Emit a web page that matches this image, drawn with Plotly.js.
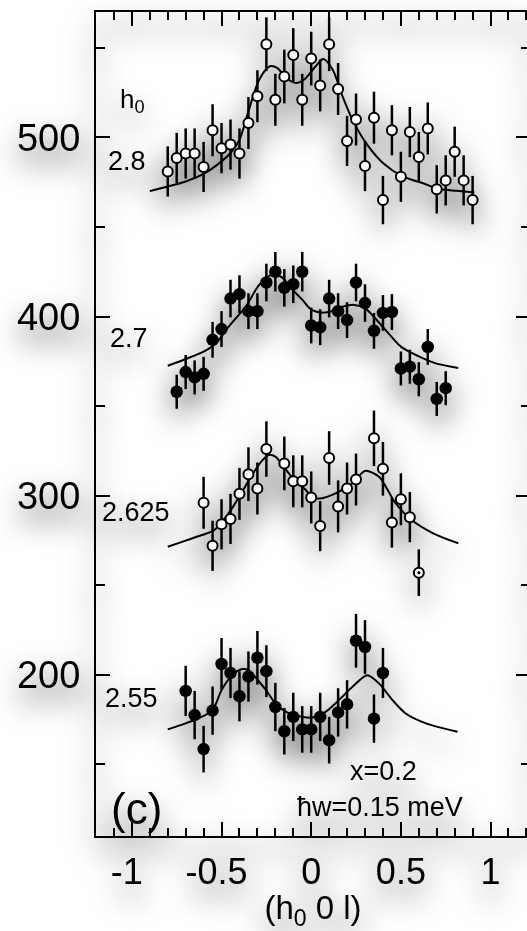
<!DOCTYPE html>
<html>
<head>
<meta charset="utf-8">
<script src="https://cdn.plot.ly/plotly-3.0.1.min.js"></script>
<style>
html, body { margin:0; padding:0; background:#ffffff; overflow:hidden; width:527px; height:931px; }
#chart { width:545px; height:931px; }
#chart .main-svg { filter: drop-shadow(0px 14px 15px rgba(0,0,0,0.75)); }
</style>
</head>
<body>
<div id="chart"></div>
<script>
// ---- data ----
const s1_x = [-0.8,-0.75,-0.7,-0.65,-0.6,-0.55,-0.5,-0.45,-0.4,-0.35,-0.3,-0.25,-0.2,-0.15,-0.1,-0.05,0,0.05,0.1,0.15,0.2,0.25,0.3,0.35,0.4,0.45,0.5,0.55,0.6,0.65,0.7,0.75,0.8,0.85,0.9];
const s1_y = [481,488.5,491,491,483.5,504,494,496,491,508,523,552,521,534,546,521,544,529,552,527,498,510,484,511,465,504,478,503,489,505,471,476,492,476,465];
const s1_err = [14,14,14,14,14,14.5,14,14,14,14.5,14.5,15,14.5,15,15,14.5,15,14.5,15,14.5,14,14.5,14,14.5,13.5,14,14,14,14,14.5,13.5,14,14,14,13.5];

const s2_x = [-0.75,-0.7,-0.65,-0.6,-0.55,-0.5,-0.45,-0.4,-0.35,-0.3,-0.25,-0.2,-0.15,-0.1,-0.05,0,0.05,0.1,0.15,0.2,0.25,0.3,0.35,0.4,0.45,0.5,0.55,0.6,0.65,0.7,0.75];
const s2_y = [358,369,366,368,387,393,410,412.5,403,403,419,425,416,418,425,395,394,410,403,398,419,407.5,392,402,402.5,371,372,365,383,354,360];
const s2_err = [9.5,9.5,9.5,9.5,10,10,10.5,10.5,10,10,10.5,11,10.5,10.5,11,10,10,10.5,10,10,10.5,10.5,10,10,10,9.5,9.5,9.5,10,9.5,9.5];

const s3_x = [-0.6,-0.55,-0.5,-0.45,-0.4,-0.35,-0.3,-0.25,-0.15,-0.1,-0.05,0,0.05,0.1,0.15,0.2,0.25,0.35,0.4,0.45,0.5,0.55,0.6];
const s3_y = [296,272,284,287,301,312,304,326,318,308,308,299,283,321,294,304,309,332,315,285,298,288,257];
const s3_err = [14.5,14,14,14,14.5,15,14.5,15.5,15,14.5,14.5,14.5,14,15,14.5,14.5,14.5,15.5,15,14,14.5,14,13];

const s4_x = [-0.7,-0.65,-0.6,-0.55,-0.5,-0.45,-0.4,-0.35,-0.3,-0.25,-0.2,-0.15,-0.1,-0.05,0,0.05,0.1,0.15,0.2,0.25,0.3,0.35,0.4];
const s4_y = [191,177.5,158.5,180,206,201,188,199,209.5,202,182,168.5,176.5,169.5,169.5,176.5,163.5,179,183.5,219,215.5,175.5,201];
const s4_err = [14,13.5,13,13.5,14.5,14,14,14,15,14.5,13.5,13,13.5,13,13,13.5,13,13.5,13.5,15,15,13.5,14];

// fitted curves
const c1_x = [-0.9,-0.8,-0.7,-0.6,-0.5,-0.45,-0.4,-0.35,-0.29,-0.23,-0.19,-0.14,-0.085,-0.04,0.025,0.067,0.12,0.175,0.23,0.305,0.4,0.51,0.62,0.715,0.81,0.91];
const c1_y = [470,472.6,475.4,479.6,486.6,491.3,498.7,514.5,532.2,539.7,538.8,533.2,530.4,532.2,539.7,543.8,537.8,522.9,509.9,496.9,485.7,478.2,474.5,471.2,470.2,469.3];

const c2_x = [-0.8,-0.7,-0.6,-0.53,-0.46,-0.365,-0.29,-0.22,-0.165,-0.1,-0.05,0,0.06,0.11,0.17,0.24,0.3,0.35,0.43,0.5,0.6,0.69,0.82];
const c2_y = [372.5,376.3,380.4,385.1,394.4,405.6,417.7,423.3,422,414.5,409.4,403.8,402.2,402.8,405.3,406.5,404.7,399.7,390.7,383.2,377.7,374,371.3];

const c3_x = [-0.8,-0.7,-0.61,-0.54,-0.46,-0.39,-0.33,-0.27,-0.236,-0.2,-0.14,-0.087,-0.03,0.006,0.06,0.117,0.173,0.23,0.3,0.378,0.416,0.47,0.56,0.68,0.82];
const c3_y = [271.5,274.9,278,280.8,290.2,301.3,311.6,320,322.7,321.8,314.4,307.8,303.2,298.9,298.6,300.4,303.2,306.9,313.8,310.6,305,295.8,286.4,279,273.4];

const c4_x = [-0.8,-0.7,-0.63,-0.55,-0.5,-0.44,-0.385,-0.35,-0.29,-0.245,-0.2,-0.125,-0.05,0.006,0.08,0.155,0.23,0.313,0.378,0.453,0.527,0.64,0.816];
const c4_y = [169.5,172.9,175.6,180.3,191.4,199.8,203.2,202.6,196.1,190.5,184,178.4,176.5,176.1,179.3,185.9,193.3,199.8,195.2,185.9,178.4,172.9,168.2];

const xTickVals = [-1,-0.5,0,0.5,1];
const xTickText = ["-1\u00a0","-0.5\u00a0","0","0.5","1"];
const yTickVals = [200,300,400,500];
const yTickText = ["200","300","400","500"];

// ---- traces ----
function curve(x, y) {
  return {x:x, y:y, type:'scatter', mode:'lines', line:{color:'#000', width:2, shape:'spline', smoothing:0.8}, hoverinfo:'skip', showlegend:false};
}
function pts(x, y, e, open, symbols) {
  return {
    x:x, y:y, type:'scatter', mode:'markers', showlegend:false,
    error_y:{type:'data', array:e, visible:true, color:'#000', thickness:2.5, width:0},
    marker: open
      ? {symbol: symbols || 'circle', size:10, color:'#fff', line:{color:'#000', width:2}}
      : {symbol:'circle', size:12.5, color:'#000', line:{color:'#000', width:0}}
  };
}
const s3_sym = s3_x.map((v,i) => i === s3_x.length-1 ? 'circle-dot' : 'circle');

const data = [
  curve(c1_x, c1_y), curve(c2_x, c2_y), curve(c3_x, c3_y), curve(c4_x, c4_y),
  pts(s1_x, s1_y, s1_err, true),
  pts(s2_x, s2_y, s2_err, false),
  pts(s3_x, s3_y, s3_err, true, s3_sym),
  pts(s4_x, s4_y, s4_err, false)
];

const F = 'Liberation Sans, Arial, Helvetica, sans-serif';
function ann(text, x, y, size, xanchor) {
  return {text:text, x:x, y:y, xref:'x', yref:'y', showarrow:false, xanchor:xanchor||'left', yanchor:'middle', font:{family:F, size:size, color:'#000'}};
}

const layout = {
  width:545, height:931,
  margin:{l:96, r:15.3, t:12.4, b:95.2},
  paper_bgcolor:'rgba(0,0,0,0)', plot_bgcolor:'rgba(0,0,0,0)',
  font:{family:F, color:'#000'},
  xaxis:{
    range:[-1.2, 1.22], showgrid:false, zeroline:false,
    showline:true, linecolor:'#000', linewidth:2, mirror:'ticks',
    ticks:'inside', ticklen:14, tickwidth:2, tickcolor:'#000',
    tickmode:'array', tickvals:xTickVals, ticktext:xTickText,
    minor:{dtick:0.1, tick0:0, ticks:'inside', ticklen:8, tickwidth:2, tickcolor:'#000'},
    tickfont:{family:F, size:36, color:'#000'}, ticklabelstandoff:3,
    title:{text:'(h<sub>0</sub> 0 l)', font:{family:F, size:33, color:'#000'}, standoff:6}
  },
  yaxis:{
    range:[110, 570], showgrid:false, zeroline:false,
    showline:true, linecolor:'#000', linewidth:2, mirror:'ticks',
    ticks:'inside', ticklen:14, tickwidth:2, tickcolor:'#000',
    tickmode:'array', tickvals:yTickVals, ticktext:yTickText,
    minor:{dtick:50, tick0:0, ticks:'inside', ticklen:9, tickwidth:2, tickcolor:'#000'},
    tickfont:{family:F, size:38, color:'#000'}, ticklabelstandoff:6
  },
  annotations:[
    ann('h<sub>0</sub>', -1.076, 520.5, 26),
    ann('2.8', -1.143, 486.7, 27),
    ann('2.7', -1.132, 388.1, 27),
    ann('2.625', -1.18, 291.1, 27),
    ann('2.55', -1.16, 187.3, 27),
    ann('x=0.2', 0.207, 146.2, 27),
    ann('ħw=0.15 meV', -0.09, 126.1, 27),
    ann('(c)', -1.125, 125.5, 44)
  ]
};

Plotly.newPlot('chart', data, layout, {displayModeBar:false, staticPlot:true});
</script>
</body>
</html>
